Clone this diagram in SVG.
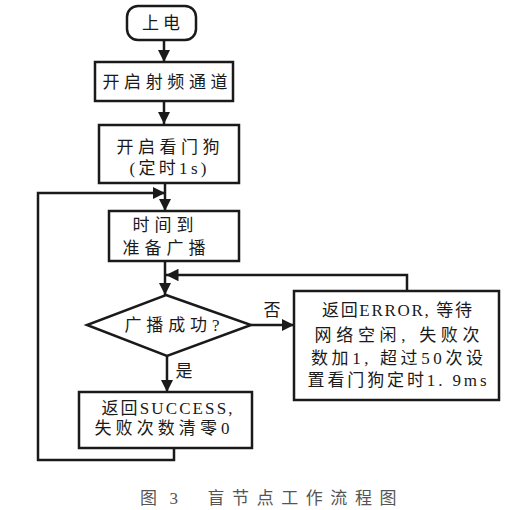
<svg xmlns="http://www.w3.org/2000/svg" width="524" height="510" viewBox="0 0 524 510">
<style>
.box{fill:#fff;stroke:#1a1a1a;stroke-width:2.5}
.ln{fill:none;stroke:#1a1a1a;stroke-width:2.5}
text{font-family:"Liberation Serif","Noto Sans CJK SC",serif;font-size:17px;fill:#1a1a1a;text-anchor:middle}
.cap{fill:#555;font-size:17px}
</style>
<defs>
<marker id="ah" viewBox="0 0 10 10" refX="10" refY="5" markerWidth="5" markerHeight="5" markerUnits="strokeWidth" orient="auto">
<path d="M0,0 L10,5 L0,10 z" fill="#1a1a1a"/>
</marker>
</defs>
<g id="connectors">
<path class="ln" d="M164,40 V62" marker-end="url(#ah)"/>
<path class="ln" d="M164,101 V124" marker-end="url(#ah)"/>
<path class="ln" d="M165,183 V211" marker-end="url(#ah)"/>
<path class="ln" d="M174,448 V460 H38 V193 H165" marker-end="url(#ah)"/>
<path class="ln" d="M165,261 V295" marker-end="url(#ah)"/>
<path class="ln" d="M407,291 V275 H166" marker-end="url(#ah)"/>
<path class="ln" d="M251,325 H294" marker-end="url(#ah)"/>
<path class="ln" d="M167,356 V392" marker-end="url(#ah)"/>
<text x="272" y="316">否</text>
<text x="184" y="377">是</text>
</g>
<g id="start">
<rect class="box" x="127" y="6" width="69" height="34" rx="11"/>
<text x="161" y="29" textLength="38" lengthAdjust="spacing">上电</text>
</g>
<g id="rf">
<rect class="box" x="95" y="62" width="138" height="39"/>
<text x="165" y="88" textLength="125" lengthAdjust="spacing">开启射频通道</text>
</g>
<g id="wdt">
<rect class="box" x="99" y="125" width="140" height="58"/>
<text x="168" y="153" textLength="103" lengthAdjust="spacing">开启看门狗</text>
<text x="168" y="174" textLength="77" lengthAdjust="spacing">(定时1s)</text>
</g>
<g id="timer">
<rect class="box" x="109" y="211" width="130" height="50"/>
<text x="163" y="231" textLength="61" lengthAdjust="spacing">时间到</text>
<text x="164" y="254" textLength="83" lengthAdjust="spacing">准备广播</text>
</g>
<g id="decision">
<path class="box" d="M166,295 L251,325 L167,356 L87,325 Z"/>
<text x="172" y="331" textLength="95" lengthAdjust="spacing">广播成功?</text>
</g>
<g id="error">
<rect class="box" x="294" y="291" width="205" height="109"/>
<text x="397" y="316" textLength="150" lengthAdjust="spacing">返回ERROR, 等待</text>
<text x="397" y="341" textLength="165" lengthAdjust="spacing">网络空闲, 失败次</text>
<text x="397" y="364" textLength="172" lengthAdjust="spacing">数加1, 超过50次设</text>
<text x="397" y="386" textLength="179" lengthAdjust="spacing">置看门狗定时1. 9ms</text>
</g>
<g id="success">
<rect class="box" x="79" y="392" width="173" height="56"/>
<text x="167" y="414" textLength="131" lengthAdjust="spacing">返回SUCCESS,</text>
<text x="162" y="434" textLength="135" lengthAdjust="spacing">失败次数清零0</text>
</g>
<text class="cap" x="159" y="504" textLength="38" lengthAdjust="spacing">图 3</text>
<text class="cap" x="302" y="504" textLength="189" lengthAdjust="spacing">盲节点工作流程图</text>
</svg>
